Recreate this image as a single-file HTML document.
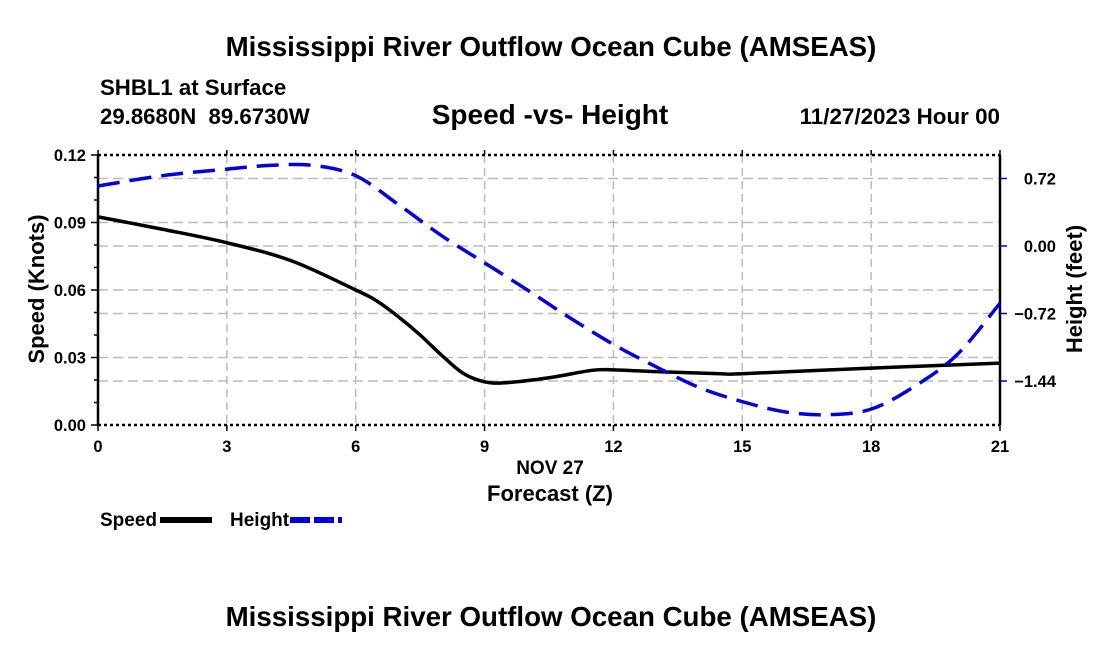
<!DOCTYPE html>
<html><head><meta charset="utf-8"><style>
body{margin:0;background:#fff}
svg{display:block;font-family:"Liberation Sans",Arial,sans-serif;font-weight:bold}
</style></head><body>
<svg id="chart" width="1100" height="650" viewBox="0 0 1100 650">
<text x="551" y="56" font-size="27.7" text-anchor="middle">Mississippi River Outflow Ocean Cube (AMSEAS)</text>
<text x="100" y="95" font-size="22.2">SHBL1 at Surface</text>
<text x="100" y="124" font-size="22.2" xml:space="preserve">29.8680N  89.6730W</text>
<text x="550" y="124" font-size="28" text-anchor="middle">Speed -vs- Height</text>
<text x="1000" y="124" font-size="22.4" text-anchor="end">11/27/2023 Hour 00</text>
<g id="grid"></g>
<g id="axes"></g>
<g id="series"></g>
<text x="550" y="474" font-size="19" text-anchor="middle">NOV 27</text>
<text x="550" y="501" font-size="22" text-anchor="middle">Forecast (Z)</text>
<text transform="translate(44,289) rotate(-90)" font-size="22" text-anchor="middle">Speed (Knots)</text>
<text transform="translate(1082,289) rotate(-90)" font-size="22" text-anchor="middle">Height (feet)</text>
<g>
<text x="100" y="526" font-size="19">Speed</text>
<line x1="160" y1="520" x2="212" y2="520" stroke="#000" stroke-width="6"/>
</g>
<g>
<text x="230" y="526" font-size="19">Height</text>
<line x1="290" y1="520" x2="342" y2="520" stroke="#0000e0" stroke-width="6" stroke-dasharray="20,4"/>
</g>
<text x="551" y="626" font-size="27.7" text-anchor="middle">Mississippi River Outflow Ocean Cube (AMSEAS)</text>
</svg>
<script>
const xTicks=[0,3,6,9,12,15,18,21];
const speedTicks=[0,0.03,0.06,0.09,0.12];
const speedTickLabels=["0.00","0.03","0.06","0.09","0.12"];
const heightTicks=[0.72,0,-0.72,-1.44];
const heightTickLabels=["0.72","0.00","\u22120.72","\u22121.44"];
const speedHours=[0,1.5,3,4.5,6,6.5,7,7.5,8,8.5,9,9.5,10.5,11.5,12,13,14.5,15,18,21];
const speedValues=[0.0925,0.087,0.081,0.073,0.060,0.055,0.048,0.040,0.031,0.023,0.0192,0.0188,0.021,0.0243,0.0245,0.0237,0.0228,0.0228,0.0253,0.0275];
const heightHours=[0,1.5,3,4,5,6,7,8,9,10,11,12,13,14,15,16,17,18,19,20,21];
const heightValues=[0.64,0.75,0.82,0.86,0.86,0.75,0.44,0.11,-0.18,-0.47,-0.77,-1.05,-1.29,-1.51,-1.66,-1.77,-1.80,-1.74,-1.50,-1.16,-0.61];

const NS="http://www.w3.org/2000/svg";
const X0=98,X1=1000,Y0=425,Y1=155;
const xs=h=>X0+(h/21)*(X1-X0);
const ys=v=>Y0-(v/0.12)*(Y0-Y1);
const yh=v=>246-v*93.75;
function mk(tag,attrs,parent){const e=document.createElementNS(NS,tag);for(const k in attrs)e.setAttribute(k,attrs[k]);parent.appendChild(e);return e;}
const grid=document.getElementById('grid'),axes=document.getElementById('axes'),series=document.getElementById('series');
xTicks.slice(1,-1).forEach(h=>{const l=mk('line',{x1:xs(h),x2:xs(h),y1:Y1,y2:Y0,stroke:'#bbb','stroke-width':1.5,'stroke-dasharray':'8,5'},grid);

});
speedTicks.slice(1,-1).forEach(v=>{const l=mk('line',{x1:X0,x2:X1,y1:ys(v),y2:ys(v),stroke:'#bbb','stroke-width':1.5,'stroke-dasharray':'10,5'},grid);

});
heightTicks.forEach(v=>{const l=mk('line',{x1:X0,x2:X1,y1:yh(v),y2:yh(v),stroke:'#bbb','stroke-width':1.5,'stroke-dasharray':'10,5'},grid);

});
mk('line',{x1:X0,x2:X1,y1:Y1,y2:Y1,stroke:'#000','stroke-width':2.5,'stroke-dasharray':'3,3'},axes);
mk('line',{x1:X0,x2:X1,y1:Y0,y2:Y0,stroke:'#000','stroke-width':2.5,'stroke-dasharray':'3,3'},axes);
mk('line',{x1:X0,x2:X0,y1:Y1,y2:Y0,stroke:'#000','stroke-width':2.5},axes);
mk('line',{x1:X1,x2:X1,y1:Y1,y2:Y0,stroke:'#000','stroke-width':2.5},axes);
for(let v=0;v<=0.1201;v+=0.01){mk('line',{x1:X0-(Math.round(v*100)%3==0?7:4),x2:X0,y1:ys(v),y2:ys(v),stroke:'#000','stroke-width':1.5},axes);}
speedTicks.forEach((v,i)=>{const t=mk('text',{x:X0-12,y:ys(v)+6,'font-size':16.5,'text-anchor':'end'},axes);t.textContent=speedTickLabels[i];

});
heightTicks.forEach((v,i)=>{mk('line',{x1:X1,x2:X1+7,y1:yh(v),y2:yh(v),stroke:'#0000e0','stroke-width':1.5},axes);
const t=mk('text',{x:1056,y:yh(v)+6,'font-size':16.5,'text-anchor':'end'},axes);t.textContent=heightTickLabels[i];

});
xTicks.forEach(h=>{mk('line',{x1:xs(h),x2:xs(h),y1:Y0,y2:Y0+6,stroke:'#000','stroke-width':1.5},axes);
mk('line',{x1:xs(h),x2:xs(h),y1:Y1,y2:Y1-5,stroke:'#000','stroke-width':1.5},axes);
const t=mk('text',{x:xs(h),y:452,'font-size':16.5,'text-anchor':'middle'},axes);t.textContent=h;

});
function smooth(pts){let d=`M${pts[0][0]},${pts[0][1]}`;for(let i=0;i<pts.length-1;i++){const p0=pts[Math.max(i-1,0)],p1=pts[i],p2=pts[i+1],p3=pts[Math.min(i+2,pts.length-1)];
d+=` C${p1[0]+(p2[0]-p0[0])/6},${p1[1]+(p2[1]-p0[1])/6} ${p2[0]-(p3[0]-p1[0])/6},${p2[1]-(p3[1]-p1[1])/6} ${p2[0]},${p2[1]}`;}return d;}
const sp=mk('path',{d:smooth(speedHours.map((h,i)=>[xs(h),ys(speedValues[i])])),fill:'none',stroke:'#000','stroke-width':3.5},series);


const hp=mk('path',{d:smooth(heightHours.map((h,i)=>[xs(h),yh(heightValues[i])])),fill:'none',stroke:'#0000e0','stroke-width':3.5,'stroke-dasharray':'22,10'},series);


</script>
</body></html>
